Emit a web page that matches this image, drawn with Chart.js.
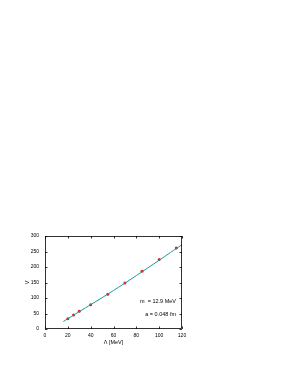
<!DOCTYPE html>
<html><head><meta charset="utf-8">
<script src="https://cdn.jsdelivr.net/npm/chart.js@4"></script>
<style>html,body{margin:0;padding:0;background:#fff}canvas{display:block}</style>
</head><body>
<canvas id="c" width="286" height="370"></canvas>
<script>
const lambdaPts = [20, 25, 30, 40, 55, 70, 85, 100, 115];
const vPts = [33, 45, 57, 78, 112, 148, 186, 224, 261];
const fitX = [16, 30, 50, 70, 90, 110, 120];
const fitY = [24, 56, 101, 148, 197, 247, 272];
const xTicks = [0, 20, 40, 60, 80, 100, 120];
const yTicks = [0, 50, 100, 150, 200, 250, 300];
const legendLines = ['m  = 12.9 MeV', 'a = 0.048 fm'];
const xTitle = 'Λ [MeV]';
const yTitle = 'V';

const FONT = 'Liberation Sans, Arial, sans-serif';

const frame = {
  id: 'frame',
  afterDatasetsDraw(chart) {
    const {ctx, chartArea: a, scales: {x, y}} = chart;
    ctx.save();
    ctx.strokeStyle = '#000';
    ctx.lineWidth = 0.8;
    ctx.strokeRect(a.left + 0.5, a.top + 0.5, a.right - a.left - 1, a.bottom - a.top - 1);
    const L = 2.5;
    ctx.beginPath();
    xTicks.forEach(v => {
      const px = Math.round(x.getPixelForValue(v)) + 0.5;
      ctx.moveTo(px, a.bottom); ctx.lineTo(px, a.bottom - L);
      ctx.moveTo(px, a.top); ctx.lineTo(px, a.top + L);
    });
    yTicks.forEach(v => {
      const py = Math.round(y.getPixelForValue(v)) + 0.5;
      ctx.moveTo(a.left, py); ctx.lineTo(a.left + L, py);
      ctx.moveTo(a.right, py); ctx.lineTo(a.right - L, py);
    });
    ctx.stroke();
    ctx.fillStyle = '#000';
    ctx.font = '5.5px ' + FONT;
    ctx.textAlign = 'right';
    ctx.textBaseline = 'middle';
    ctx.fillText(legendLines[0], a.right - 6, a.top + 65);
    ctx.fillText(legendLines[1], a.right - 6, a.top + 78);
    ctx.restore();
  }
};

new Chart(document.getElementById('c'), {
  type: 'scatter',
  data: {
    datasets: [
      {
        type: 'line',
        data: fitX.map((v, i) => ({x: v, y: fitY[i]})),
        borderColor: '#1a9a9a',
        borderWidth: 1,
        pointRadius: 0,
        tension: 0.4,
        fill: false
      },
      {
        data: lambdaPts.map((v, i) => ({x: v, y: vPts[i]})),
        backgroundColor: '#e8191a',
        borderColor: '#e8191a',
        pointRadius: 1.5,
        borderWidth: 0
      }
    ]
  },
  plugins: [frame],
  options: {
    responsive: false,
    animation: false,
    layout: {padding: {left: 24, top: 236, right: 104, bottom: 24}},
    plugins: {legend: {display: false}, tooltip: {enabled: false}},
    scales: {
      x: {
        type: 'linear', min: 0, max: 120,
        afterBuildTicks: s => { s.ticks = xTicks.map(v => ({value: v})); },
        afterFit: s => { s.height = 17; },
        grid: {display: false, drawTicks: false},
        border: {display: false},
        ticks: {color: '#000', font: {size: 5, family: FONT}, padding: 4, maxRotation: 0},
        title: {display: true, text: xTitle, color: '#000', font: {size: 5.5, family: FONT}, padding: {top: 0, bottom: 0}}
      },
      y: {
        type: 'linear', min: 0, max: 300,
        afterBuildTicks: s => { s.ticks = yTicks.map(v => ({value: v})); },
        afterFit: s => { s.width = 21; },
        grid: {display: false, drawTicks: false},
        border: {display: false},
        ticks: {color: '#000', font: {size: 5, family: FONT}, padding: 6},
        title: {display: true, text: yTitle, color: '#000', font: {size: 5.5, family: FONT}, padding: {top: 0, bottom: 0}}
      }
    }
  }
});
</script>
</body></html>
